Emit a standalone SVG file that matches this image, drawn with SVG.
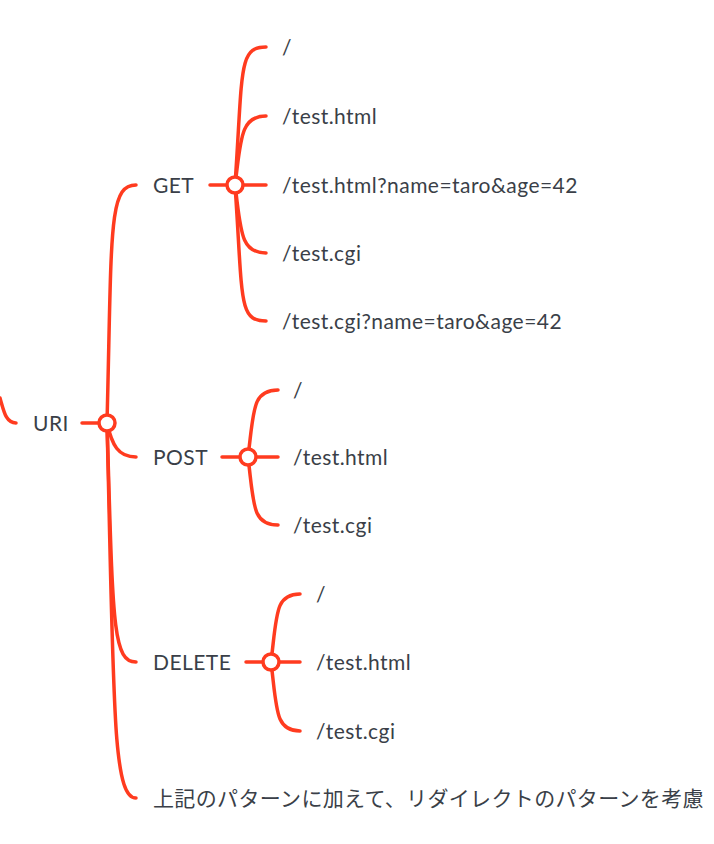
<svg xmlns="http://www.w3.org/2000/svg" width="714" height="844" viewBox="0 0 714 844">
<style>
.c{fill:none;stroke:#ff3b1f;stroke-width:3.5;stroke-linecap:round}
.n{fill:#fff;stroke:#ff3b1f;stroke-width:3.5}
.t{font-family:Lato,"Noto Sans CJK JP",sans-serif;font-size:21px;letter-spacing:0.45px;fill:#3a3f48;dominant-baseline:central}
.j{letter-spacing:0.35px}
</style>
<rect width="714" height="844" fill="#fff"/>
<g id="connectors">
<path class="c" d="M0,398 C4,412 6,423 16,423"/>
<path class="c" d="M82,423 L107,423"/>
<path class="c" d="M107,423 C112,230 108,185 136,185"/>
<path class="c" d="M107,423 C112,445 118,457 136,457"/>
<path class="c" d="M107,423 C113,620 112,662 136,662"/>
<path class="c" d="M107,423 C114,700 112,798 136,798"/>
<path class="c" d="M210,185 L266,185"/>
<path class="c" d="M235,185 C243,70 238,47 266,47"/>
<path class="c" d="M235,185 C241,140 240,116 266,116"/>
<path class="c" d="M235,185 C241,230 240,253 266,253"/>
<path class="c" d="M235,185 C243,300 238,321 266,321"/>
<path class="c" d="M222,457 L278,457"/>
<path class="c" d="M248,457 C254,410 252,390 278,390"/>
<path class="c" d="M248,457 C254,505 252,525 278,525"/>
<path class="c" d="M246,662 L300,662"/>
<path class="c" d="M271,662 C277,614 275,594 300,594"/>
<path class="c" d="M271,662 C277,710 275,731 300,731"/>
</g>
<g id="uri"><text class="t" x="33" y="422">URI</text><circle class="n" cx="107" cy="423" r="8"/></g>
<g id="get"><text class="t" x="153" y="184">GET</text><circle class="n" cx="235" cy="185" r="8"/></g>
<g id="get1"><text class="t" x="282" y="46">/</text></g>
<g id="get2"><text class="t" x="282" y="115">/test.html</text></g>
<g id="get3"><text class="t" x="282" y="184">/test.html?name=taro&amp;age=42</text></g>
<g id="get4"><text class="t" x="282" y="252">/test.cgi</text></g>
<g id="get5"><text class="t" x="282" y="320">/test.cgi?name=taro&amp;age=42</text></g>
<g id="post"><text class="t" x="153" y="456">POST</text><circle class="n" cx="248" cy="457" r="8"/></g>
<g id="post1"><text class="t" x="293" y="389">/</text></g>
<g id="post2"><text class="t" x="293" y="456">/test.html</text></g>
<g id="post3"><text class="t" x="293" y="524">/test.cgi</text></g>
<g id="delete"><text class="t" x="153" y="661">DELETE</text><circle class="n" cx="271" cy="662" r="8"/></g>
<g id="delete1"><text class="t" x="316" y="593">/</text></g>
<g id="delete2"><text class="t" x="316" y="661">/test.html</text></g>
<g id="delete3"><text class="t" x="316" y="730">/test.cgi</text></g>
<g id="note"><text class="t j" x="153" y="797">上記のパターンに加えて、リダイレクトのパターンを考慮</text></g>
</svg>
